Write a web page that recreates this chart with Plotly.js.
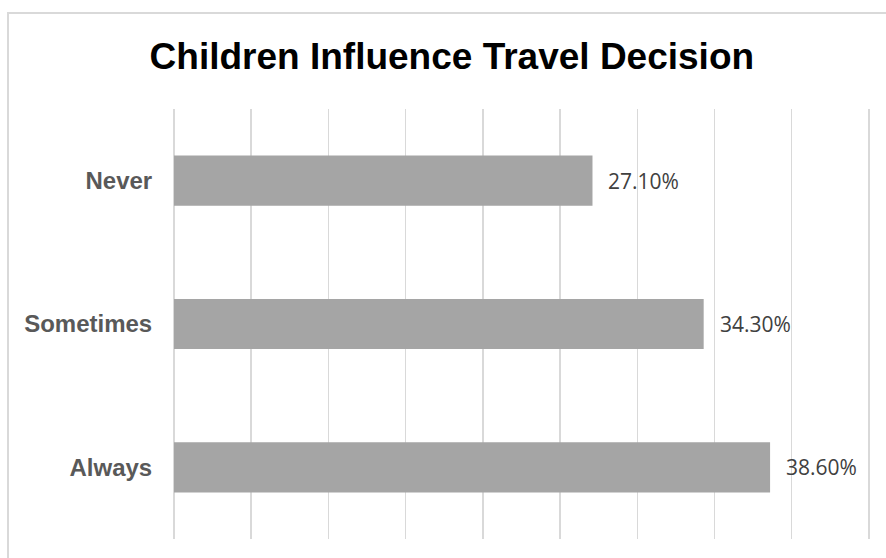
<!DOCTYPE html>
<html>
<head>
<meta charset="utf-8">
<script src="https://cdn.plot.ly/plotly-3.0.1.min.js"></script>
<style>
  html, body { margin: 0; padding: 0; overflow: hidden; background: #ffffff; }
  #frame { position: absolute; left: 7px; top: 12px; width: 1000px; height: 1000px; border: 2px solid #d9d9d9; box-sizing: border-box; }
  #chart { position: absolute; left: 0; top: 0; width: 886px; height: 558px; }
</style>
</head>
<body>
<div id="frame"></div>
<div id="chart"></div>
<script>
const categories = ['Always', 'Sometimes', 'Never'];
const values = [0.386, 0.343, 0.271];
const valueLabels = ['38.60%', '34.30%', '27.10%'];
const chartTitle = 'Children Influence Travel Decision';

const trace = {
  type: 'bar',
  orientation: 'h',
  y: categories,
  x: values,
  marker: { color: '#a5a5a5' },
  hoverinfo: 'skip'
};

const annotations = categories.map((c, i) => ({
  x: values[i],
  y: c,
  xref: 'x',
  yref: 'y',
  text: valueLabels[i],
  showarrow: false,
  xanchor: 'left',
  yanchor: 'middle',
  xshift: 14,
  font: { family: 'Open Sans, sans-serif', size: 21, color: '#404040' }
}));

const layout = {
  width: 886,
  height: 558,
  margin: { l: 174, r: 14.4, t: 109, b: 19, pad: 0 },
  paper_bgcolor: 'rgba(0,0,0,0)',
  plot_bgcolor: 'rgba(0,0,0,0)',
  showlegend: false,
  bargap: 0.65,
  title: {
    text: chartTitle,
    x: 0.510,
    xanchor: 'center',
    xref: 'container',
    y: 0.899,
    yanchor: 'middle',
    yref: 'container',
    font: { family: 'Liberation Sans, Arial, sans-serif', size: 37, color: '#000000', weight: 'bold' }
  },
  xaxis: {
    range: [0, 0.452],
    dtick: 0.05,
    tick0: 0,
    showticklabels: false,
    showgrid: true,
    gridcolor: '#d9d9d9',
    gridwidth: 1.5,
    zeroline: true,
    zerolinecolor: '#d9d9d9',
    zerolinewidth: 1.5,
    showline: false,
    ticks: '',
    fixedrange: true
  },
  yaxis: {
    type: 'category',
    showgrid: false,
    zeroline: false,
    showline: false,
    ticks: 'outside',
    ticklen: 16,
    tickcolor: 'rgba(0,0,0,0)',
    tickfont: { family: 'Liberation Sans, Arial, sans-serif', size: 24, color: '#595959', weight: 'bold' },
    fixedrange: true
  },
  annotations: annotations
};

Plotly.newPlot('chart', [trace], layout, { displayModeBar: false, staticPlot: true });
</script>
</body>
</html>
